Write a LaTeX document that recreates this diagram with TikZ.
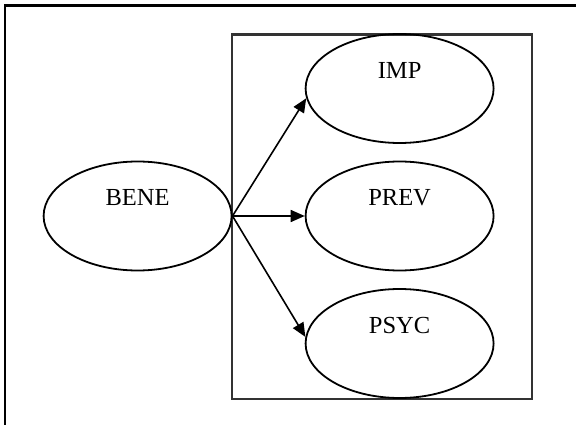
\documentclass[tikz,border=0pt]{standalone}
\usepackage{fontspec}
\setmainfont{Liberation Serif}
\usetikzlibrary{shapes.geometric,arrows.meta}

\begin{document}
\begin{tikzpicture}[x=1pt,y=-1pt,
    oval/.style={draw,ellipse,line width=1.8pt,inner sep=0pt,
      minimum width=188pt,minimum height=109pt,
      text height=16pt,text depth=36pt,font=\fontsize{24.5}{28}\selectfont},
    link/.style={line width=1.6pt,-{Triangle[length=14pt,width=12pt]}}]
    \useasboundingbox (0,0) rectangle (576,425);
    % frame and group box
    \draw[line width=2.2pt] (5,425) -- (5,5.5) -- (576,5.5);
    \draw[line width=2.2pt,black!80] (231.6,34.6) rectangle (531.6,399);
    % nodes
    \node[oval] (bene) at (137.6,216.0) {BENE};
    \node[oval] (imp)  at (399.6,88.5)  {IMP};
    \node[oval] (prev) at (399.6,216.0) {PREV};
    \node[oval] (psyc) at (399.6,343.5) {PSYC};
    % arrows
    \draw[link] (bene.east) -- (imp.186);
    \draw[link] (bene.east) -- (prev.west);
    \draw[link] (bene.east) -- (psyc.176);
  \end{tikzpicture}
\end{document}
